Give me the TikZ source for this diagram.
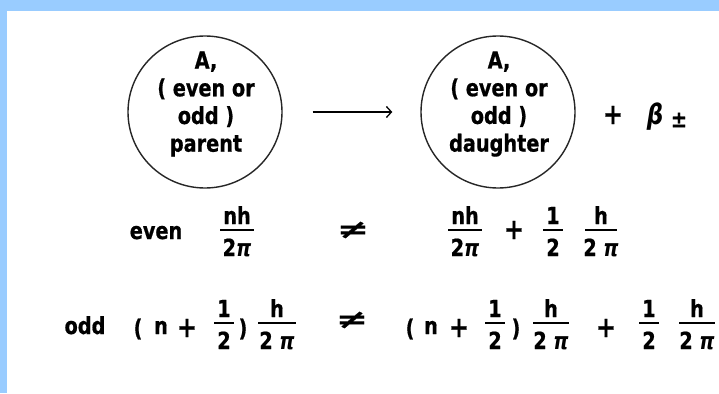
\documentclass[tikz,border=0pt]{standalone}
\usepackage{graphicx}
\usepackage{fontspec}
\setmainfont{DejaVu Sans}[FakeStretch=0.82, BoldFeatures={FakeBold=0.7}]
\usetikzlibrary{arrows.meta,shapes.geometric}
\definecolor{skyband}{HTML}{99CCFF}
\tikzset{
  txt/.style={font=\fontsize{23.5}{27.7}\selectfont\bfseries, inner sep=0pt, text=black},
  plussign/.style={txt, font=\fontsize{29}{30}\selectfont\bfseries},
  ring/.style={draw=black!85, line width=1.4pt, ellipse, minimum width=154pt, minimum height=152pt, inner sep=0pt},
  fracbar/.style={line width=2.8pt, line cap=butt},
  reactarrow/.style={line width=1.3pt, -{Straight Barb[length=5pt,width=11pt,line width=1.3pt]}},
}
\newcommand\pii{{\itshape π}}
\newcommand\neqbig{\scalebox{2}[1.1]{≠}}
% name, x, bar y, numerator, denominator, half width of bar
\newcommand\fracnode[6]{%
  \coordinate (#1-b) at (#2,#3);
  \node[txt, anchor=base] (#1-n) at (#2,#3-6) {#4};
  \node[txt, anchor=base] (#1-d) at (#2,#3+26) {#5};
  \draw[fracbar] ([xshift=-#6pt]#1-b) -- ([xshift=#6pt]#1-b);
}
\begin{document}
\begin{tikzpicture}[x=1pt,y=-1pt]
\useasboundingbox (0,0) rectangle (719,393);
\fill[skyband] (0,0) rectangle (719,393);
\fill[white] (7,11) rectangle (719,393);

% circles
\node[ring] (parent) at (205,112) {};
\node[ring] (daughter) at (498,112) {};
\node[txt, align=center] (parentlbl) at (206,104) {A,\\( even or\\odd )\\parent};
\node[txt, align=center] (daughterlbl) at (499,104) {A,\\( even or\\odd )\\daughter};
\draw[reactarrow, shorten <=30pt, shorten >=28pt] (parent) -- (daughter);
\node[plussign] (plus0) at (613,115) {+};
\node[txt, font=\fontsize{28}{30}\selectfont\bfseries\itshape] (beta) at (655,117) {β};
\node[txt] (pm) at (679,120) {±};

% even row
\node[txt, anchor=base] (even) at (156,239) {even};
\fracnode{f1}{237}{230}{nh}{2\pii}{17}
\node[txt] (ne1) at (353,230) {\neqbig};
\fracnode{f2}{465}{230}{nh}{2\pii}{17}
\node[plussign] (plus1) at (514,230) {+};
\fracnode{f3}{553}{230}{1}{2}{10}
\fracnode{f4}{601}{230}{h}{2 \pii}{16}

% odd row
\node[txt, anchor=base] (odd) at (85,334) {odd};
\node[txt] (lp1) at (138,329) {(};
\node[txt, anchor=base] (n1) at (161,334) {n};
\node[plussign] (plus2) at (187,328) {+};
\fracnode{f5}{224}{323}{1}{2}{10}
\node[txt] (rp1) at (243,329) {)};
\fracnode{f6}{277}{323}{h}{2 \pii}{19}
\node[txt] (ne2) at (352,320) {\neqbig};
\node[txt] (lp2) at (410,329) {(};
\node[txt, anchor=base] (n2) at (431,334) {n};
\node[plussign] (plus3) at (459,328) {+};
\fracnode{f7}{495}{323}{1}{2}{10}
\node[txt] (rp2) at (516,329) {)};
\fracnode{f8}{551}{323}{h}{2 \pii}{18}
\node[plussign] (plus4) at (606,328) {+};
\fracnode{f9}{649}{323}{1}{2}{10}
\fracnode{f10}{697}{323}{h}{2 \pii}{18}
\end{tikzpicture}
\end{document}
